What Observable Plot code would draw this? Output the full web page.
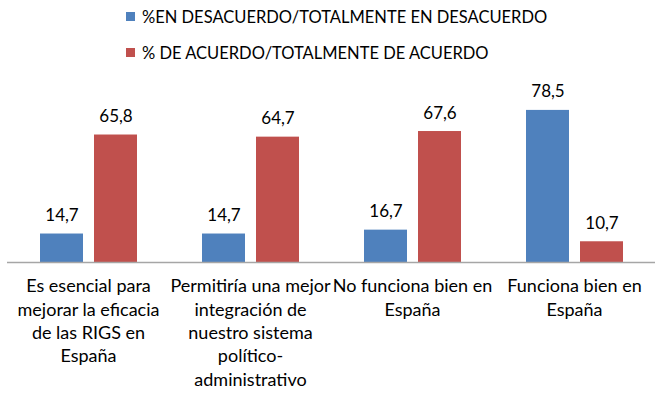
<!DOCTYPE html>
<html>
<head>
<meta charset="utf-8">
<script src="https://cdn.jsdelivr.net/npm/d3@7"></script>
<script src="https://cdn.jsdelivr.net/npm/@observablehq/plot@0.6"></script>
<style>
  html, body { margin: 0; padding: 0; background: #fff; }
  #chart { width: 662px; height: 393px; position: relative; font-family: Lato, sans-serif; }
  #legend { position: relative; height: 70px; }
  .item { position: absolute; left: 126px; display: flex; align-items: center; font-size: 16.5px; color: #000; white-space: nowrap; }
  .sw { width: 9px; height: 9px; margin-right: 7px; }
  svg { display: block; }
</style>
</head>
<body>
<div id="chart">
  <div id="legend"></div>
  <div id="plot"></div>
</div>
<script>
const categories = [
  "Es esencial para\nmejorar la eficacia\nde las RIGS en\nEspaña",
  "Permitiría una mejor\nintegración de\nnuestro sistema\npolítico-\nadministrativo",
  "No funciona bien en\nEspaña",
  "Funciona bien en\nEspaña"
];
const series = ["%EN DESACUERDO/TOTALMENTE EN DESACUERDO", "% DE ACUERDO/TOTALMENTE DE ACUERDO"];
const desacuerdo = [14.7, 14.7, 16.7, 78.5];
const acuerdo = [65.8, 64.7, 67.6, 10.7];
const colors = ["#4F81BD", "#C0504D"];

const data = [];
categories.forEach((c, i) => {
  data.push({category: c, series: series[0], value: desacuerdo[i]});
  data.push({category: c, series: series[1], value: acuerdo[i]});
});

// Legend
const legend = document.getElementById("legend");
series.forEach((s, i) => {
  const it = document.createElement("div");
  it.className = "item";
  it.style.top = (i === 0 ? 6 : 42) + "px";
  it.style.height = "21px";
  const sw = document.createElement("span");
  sw.className = "sw";
  sw.style.background = colors[i];
  const tx = document.createElement("span");
  tx.textContent = s;
  it.appendChild(sw);
  it.appendChild(tx);
  legend.appendChild(it);
});

const fmt = v => v.toFixed(1).replace(".", ",");

const chart = Plot.plot({
  width: 662,
  height: 323,
  marginLeft: 6,
  marginRight: 6,
  marginTop: 37,
  marginBottom: 131,
  style: {fontFamily: "Lato, sans-serif", background: "#fff"},
  fx: {domain: categories, padding: 0, label: null, axis: null},
  x: {domain: series, paddingInner: 0.211, paddingOuter: 0.596, axis: null},
  y: {domain: [0, 80], axis: null},
  color: {domain: series, range: colors},
  marks: [
    Plot.barY(data, {fx: "category", x: "series", y: "value", fill: "series"}),
    Plot.ruleY([0], {stroke: "#a6a6a6", strokeWidth: 1.5}),
    Plot.text(data, {fx: "category", x: "series", y: "value", text: d => fmt(d.value), lineAnchor: "bottom", dy: -13, fontSize: 17, fill: "#000"}),
    Plot.axisFx({domain: categories, anchor: "bottom", tickSize: 0, tickPadding: 13, fontSize: 18, lineHeight: 1.3, label: null, fill: "#000"})
  ]
});
document.getElementById("plot").appendChild(chart);
</script>
</body>
</html>
